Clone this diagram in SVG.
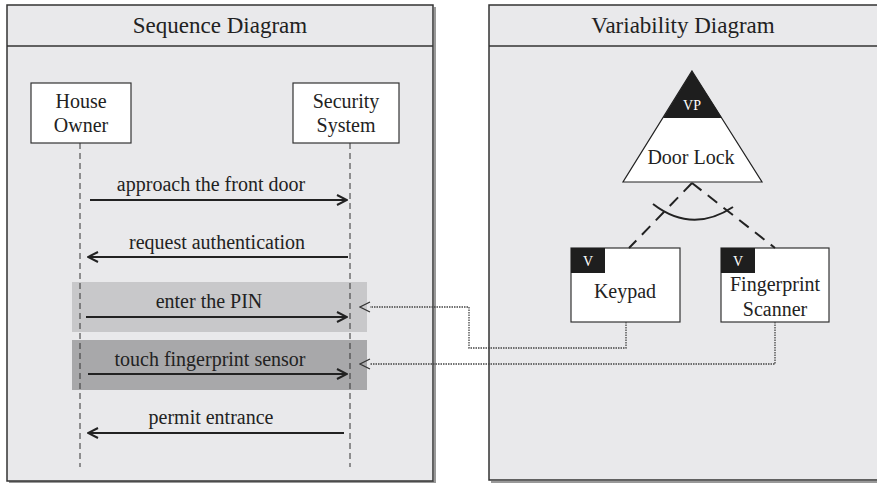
<svg xmlns="http://www.w3.org/2000/svg" width="877" height="483" viewBox="0 0 877 483">
<defs>
<style>
text{font-family:"Liberation Serif","Times New Roman",serif;fill:#222}
.panel{fill:#e9e9eb;stroke:#333;stroke-width:1.5}
.shadow{fill:none;stroke:#999;stroke-width:2}
.title{font-size:23px;text-anchor:middle}
.lbl{font-size:20px;text-anchor:middle}
.box{fill:#fff;stroke:#333;stroke-width:1.2}
.life{stroke:#333;stroke-width:1;stroke-dasharray:6,4;fill:none}
.msg{stroke:#222;stroke-width:2;fill:none}
.dot{stroke:#444;stroke-width:1.3;stroke-dasharray:1.5,1;fill:none}
.tag{fill:#1e1e1e}
.tagt{font-size:14px;fill:#fff;text-anchor:middle}
.dash{stroke:#222;stroke-width:2;stroke-dasharray:12,8;fill:none}
</style>
<marker id="ah" viewBox="0 0 12 12" refX="11" refY="6" markerWidth="12" markerHeight="12" markerUnits="userSpaceOnUse" orient="auto">
<path d="M1,1 L11,6 L1,11" fill="none" stroke="#222" stroke-width="2"/>
</marker>
<marker id="ah2" viewBox="0 0 12 12" refX="1" refY="6" markerWidth="12" markerHeight="12" markerUnits="userSpaceOnUse" orient="auto">
<path d="M11,1 L1,6 L11,11" fill="none" stroke="#333" stroke-width="1.2" transform="rotate(180 6 6)"/>
</marker>
</defs>
<rect width="877" height="483" fill="#fff"/>

<g id="seq-panel">
<path class="shadow" d="M435,7 V482 H9"/>
<rect class="panel" x="7" y="5" width="426" height="476"/>
<line x1="7" y1="46" x2="433" y2="46" stroke="#333" stroke-width="1.5"/>
<text class="title" x="220" y="33">Sequence Diagram</text>
</g>

<g id="var-panel">
<path class="shadow" d="M491,482 H877"/>
<rect class="panel" x="489" y="5" width="395" height="475"/>
<line x1="489" y1="46" x2="877" y2="46" stroke="#333" stroke-width="1.5"/>
<text class="title" x="683" y="33">Variability Diagram</text>
</g>

<g id="highlights">
<rect x="72" y="282" width="295" height="50" fill="#c8c8ca"/>
<rect x="72" y="340" width="295" height="50" fill="#a8a8aa"/>
</g>

<g id="house-owner">
<rect class="box" x="31" y="83" width="100" height="60"/>
<text class="lbl" x="81" y="108">House</text>
<text class="lbl" x="81" y="132">Owner</text>
</g>
<g id="security-system">
<rect class="box" x="293" y="83" width="106" height="60"/>
<text class="lbl" x="346" y="108">Security</text>
<text class="lbl" x="346" y="132">System</text>
</g>

<g id="door-lock">
<polygon points="692,71 762,182 623,182" fill="#fff" stroke="#222" stroke-width="1.2"/>
<polygon points="692,71 722,118 663,118" class="tag"/>
<text class="tagt" x="692" y="110">VP</text>
<text class="lbl" x="691" y="164">Door Lock</text>
</g>

<g id="keypad">
<rect class="box" x="571" y="248" width="109" height="74"/>
<rect class="tag" x="571" y="248" width="34" height="25"/>
<text class="tagt" x="588" y="266">V</text>
<text class="lbl" x="625" y="298">Keypad</text>
</g>

<g id="fingerprint-scanner">
<rect class="box" x="721" y="248" width="108" height="74"/>
<rect class="tag" x="721" y="248" width="34" height="25"/>
<text class="tagt" x="738" y="266">V</text>
<text class="lbl" x="775" y="291">Fingerprint</text>
<text class="lbl" x="775" y="316">Scanner</text>
</g>

<g id="connectors">
<line class="life" x1="80" y1="143" x2="80" y2="467"/>
<line class="life" x1="350" y1="143" x2="350" y2="467"/>

<line class="msg" x1="90" y1="200" x2="347" y2="200" marker-end="url(#ah)"/>
<text class="lbl" x="211" y="191">approach the front door</text>
<line class="msg" x1="348" y1="257" x2="88" y2="257" marker-end="url(#ah)"/>
<text class="lbl" x="217" y="249">request authentication</text>
<line class="msg" x1="86" y1="317" x2="347" y2="317" marker-end="url(#ah)"/>
<text class="lbl" x="209" y="308">enter the PIN</text>
<line class="msg" x1="88" y1="374" x2="347" y2="374" marker-end="url(#ah)"/>
<text class="lbl" x="210" y="366">touch fingerprint sensor</text>
<line class="msg" x1="344" y1="433" x2="88" y2="433" marker-end="url(#ah)"/>
<text class="lbl" x="211" y="424">permit entrance</text>

<polyline class="dot" points="626,322 626,348 469,348 469,307 370,307" marker-end="url(#ah2)"/>
<polyline class="dot" points="775,322 775,364 370,364" marker-end="url(#ah2)"/>

<path class="dash" d="M692,183 L629,248"/>
<path class="dash" d="M692,183 L775,248"/>
<path d="M653,204 Q692,234 733,207" fill="none" stroke="#222" stroke-width="2"/>
</g>
</svg>
